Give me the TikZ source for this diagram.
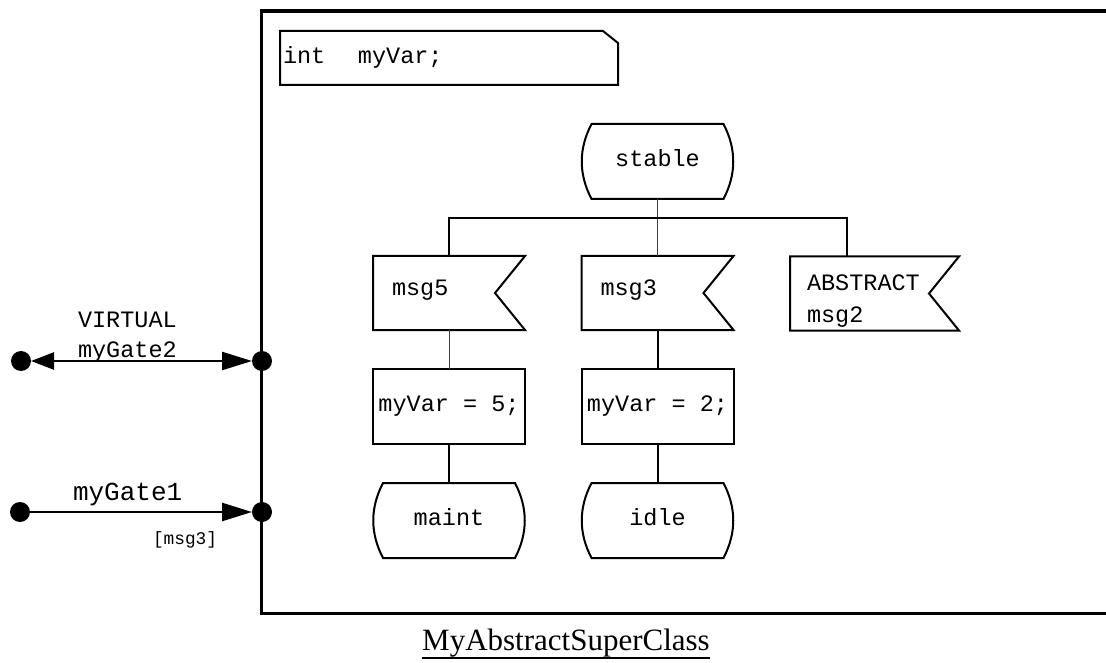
\documentclass[tikz,border=0pt]{standalone}
\usepackage{fontspec}
\setmainfont{Liberation Serif}
\newfontfamily\monofam{Liberation Mono}
\usetikzlibrary{calc,arrows.meta}
\newcommand\myState[1]{\draw[shapeline] ($(#1.north west)+(10,0)$) -- ($(#1.north east)+(-10,0)$) .. controls ($(#1.north east)+(3,25)$) and ($(#1.south east)+(3,-25)$) .. ($(#1.south east)+(-10,0)$) -- ($(#1.south west)+(10,0)$) .. controls ($(#1.south west)+(-3,-25)$) and ($(#1.north west)+(-3,25)$) .. cycle;}
\newcommand\mySig[1]{\draw[shapeline] (#1.north west) -- (#1.north east) -- ($(#1.east)+(-30,0)$) -- (#1.south east) -- (#1.south west) -- cycle;}
\newcommand\myTextBox[1]{\draw[shapeline] (#1.north west) -- ($(#1.north east)+(-15,0)$) -- ($(#1.north east)+(0,12)$) -- (#1.south east) -- (#1.south west) -- cycle;}
\tikzset{
  shapeline/.style={line width=2pt, line join=miter},
  conn/.style={line width=2pt},
  thinline/.style={line width=1pt, black!75},
  codefont/.style={font=\monofam\fontsize{23.5}{32}\selectfont},
  statenode/.style={codefont, minimum width=152pt, minimum height=75pt, inner sep=0pt, outer sep=0pt, text height=13pt, text depth=3pt},
  tasknode/.style={codefont, draw, shapeline, minimum width=152pt, minimum height=75pt, inner sep=0pt, outer sep=0pt, text height=13pt, text depth=3pt},
  signode/.style={codefont, minimum height=74pt, inner xsep=19pt, inner ysep=0pt, outer sep=0pt, align=left, text height=10pt, text depth=6pt},
  dot/.style={circle, fill=black, minimum size=20pt, inner sep=0pt, outer sep=0pt},
  gateline/.style={line width=2.5pt},
  plain/.style={inner sep=0pt, outer sep=0pt, anchor=base west, align=left}
}
\begin{document}
\begin{tikzpicture}[x=1pt,y=-1pt]
\useasboundingbox (0,0) rectangle (1106,663);
% frame
\draw[line width=3.3pt] (1108,11) -- (261.5,11) -- (261.5,613.5) -- (1108,613.5);
% declaration box
\node[codefont, minimum height=54pt, inner xsep=3pt, inner ysep=0pt, outer sep=0pt, text width=332pt, align=left, text height=14pt, text depth=2pt] (decl) at (449,58) {\makebox[75pt][l]{int}myVar;};
\myTextBox{decl}
% states and signals
\node[statenode] (stable) at (657.5,161.5) {stable};
\myState{stable}
\node[signode, text width=114pt] (msg5) at (449,293) {msg5};
\mySig{msg5}
\node[signode, text width=114pt] (msg3) at (657.5,293) {msg3};
\mySig{msg3}
\node[signode, text width=131pt] (abs) at (874.5,293.5) {};
\mySig{abs}
\node[plain, codefont] (abstxt) at (807,322) {ABSTRACT\\msg2};
\node[tasknode] (task5) at (449,406.5) {myVar = 5;};
\node[tasknode] (task2) at (657.5,406.5) {myVar = 2;};
\node[statenode] (maint) at (449,520.5) {maint};
\myState{maint}
\node[statenode] (idle) at (657.5,520.5) {idle};
\myState{idle}
% connectors
\coordinate (bar) at (657.5,218);
\coordinate (absin) at ($(abs.north west)+(57,0)$);
\draw[thinline] (stable.south) -- (msg3.north);
\draw[conn] (msg5.north) |- (bar) -| (absin);
\draw[thinline] (msg5.south) -- (task5.north);
\draw[conn] (msg3.south) -- (task2.north);
\draw[conn] (task5.south) -- (maint.north);
\draw[conn] (task2.south) -- (idle.north);
% gates
\node[dot] (g2l) at (21,361) {};
\node[dot] (g2r) at (262,361) {};
\node[dot] (g1l) at (20,512) {};
\node[dot] (g1r) at (262,512) {};
\draw[gateline, {Triangle[length=23pt,width=17pt]}-{Triangle[length=30pt,width=18pt]}] (g2l) -- (g2r);
\draw[gateline, -{Triangle[length=30pt,width=18pt]}] (g1l) -- (g1r);
\node[plain, font=\monofam\fontsize{23.5}{30}\selectfont] (g2lab) at (78,357) {VIRTUAL\\myGate2};
\node[plain, font=\monofam\fontsize{26}{30}\selectfont] (g1lab) at (73,500) {myGate1};
\node[plain, font=\monofam\fontsize{17.8}{20}\selectfont] (g1sig) at (153,544) {[msg3]};
% title
\node[inner sep=0pt, outer sep=0pt, anchor=base, font=\fontsize{31}{36}\selectfont] (title) at (566,650) {MyAbstractSuperClass};
\draw[line width=2pt] ([yshift=-8pt]title.base west) -- ([yshift=-8pt]title.base east);
\end{tikzpicture}
\end{document}
